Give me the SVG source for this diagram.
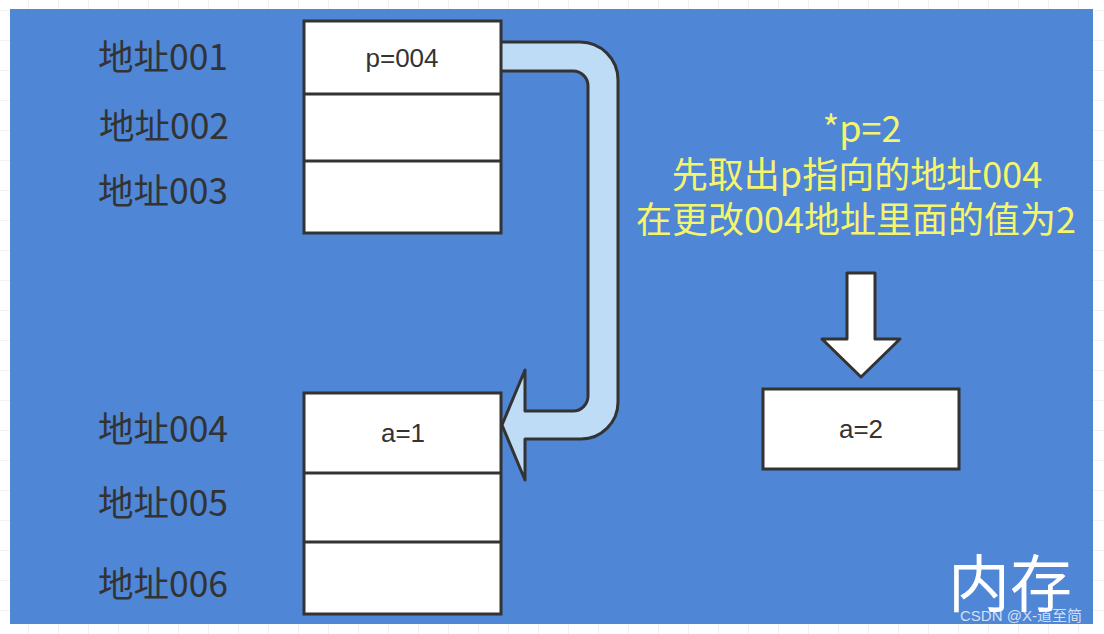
<svg xmlns="http://www.w3.org/2000/svg" width="1104" height="634" viewBox="0 0 1104 634">
  <defs>
    <pattern id="grid" x="28" y="10" width="30" height="30" patternUnits="userSpaceOnUse">
      <path d="M0,0 H30 M0,0 V30" fill="none" stroke="#e6e6e6" stroke-width="1.2"/>
    </pattern>
    <style>
      .cell { fill: #ffffff; stroke: #333333; stroke-width: 3; }
      .div { stroke: #333333; stroke-width: 3; }
      .addr { font-family: "Noto Sans CJK SC", "Noto Sans", sans-serif; font-size: 35.5px; fill: #333333; text-anchor: middle; }
      .val { font-family: "Liberation Sans", "Noto Sans", sans-serif; font-size: 26px; fill: #333333; text-anchor: middle; }
      .note { font-family: "Noto Sans CJK SC", "Noto Sans", sans-serif; font-size: 36px; fill: #f5f56c; text-anchor: middle; }
      .big { font-family: "Noto Sans CJK SC", sans-serif; font-size: 62px; fill: #ffffff; }
      .wm { font-family: "Liberation Sans", "Noto Sans CJK SC", sans-serif; font-size: 15px; fill: #ffffff; fill-opacity: 0.75; }
      .arrow { stroke: #333333; stroke-width: 3; stroke-linejoin: round; }
    </style>
  </defs>
  <rect width="1104" height="634" fill="#ffffff"/>
  <rect width="1104" height="634" fill="url(#grid)"/>
  <rect id="memory" x="10" y="9" width="1083" height="615" fill="#4f86d6"/>

  <g id="labels">
    <text class="addr" x="163" y="70">地址001</text>
    <text class="addr" x="164" y="139">地址002</text>
    <text class="addr" x="163" y="204">地址003</text>
    <text class="addr" x="163" y="442">地址004</text>
    <text class="addr" x="163" y="516">地址005</text>
    <text class="addr" x="163" y="597">地址006</text>
  </g>

  <g id="connectors">
    <path class="arrow" fill="#bfdcf7" d="M501,42 H580 A38,38 0 0 1 618,80 V402 A37,37 0 0 1 581,439 H525 V480 L502,425 L525,370 V411 H573 A15,15 0 0 0 588,396 V86 A15,15 0 0 0 573,71 H501"/>
    <path class="arrow" fill="#ffffff" d="M847,273 H875 V339 H900 L861,377 L822,339 H847 Z"/>
  </g>

  <g id="block-top">
    <rect class="cell" x="304" y="21" width="197" height="212"/>
    <line class="div" x1="304" y1="94" x2="501" y2="94"/>
    <line class="div" x1="304" y1="161" x2="501" y2="161"/>
    <text class="val" x="402" y="67">p=004</text>
  </g>

  <g id="block-bottom">
    <rect class="cell" x="304" y="393" width="197" height="221"/>
    <line class="div" x1="304" y1="473" x2="501" y2="473"/>
    <line class="div" x1="304" y1="542" x2="501" y2="542"/>
    <text class="val" x="403" y="442">a=1</text>
  </g>

  <g id="result">
    <rect class="cell" x="763" y="389" width="196" height="80"/>
    <text class="val" x="861" y="438">a=2</text>
  </g>

  <g id="note">
    <text class="note" x="862" y="142">*p=2</text>
    <text class="note" x="857" y="188">先取出p指向的地址004</text>
    <text class="note" x="856" y="233">在更改004地址里面的值为2</text>
  </g>

  <text class="big" x="948" y="607">内存</text>
  <text class="wm" x="960" y="621">CSDN @X-道至简</text>
</svg>
